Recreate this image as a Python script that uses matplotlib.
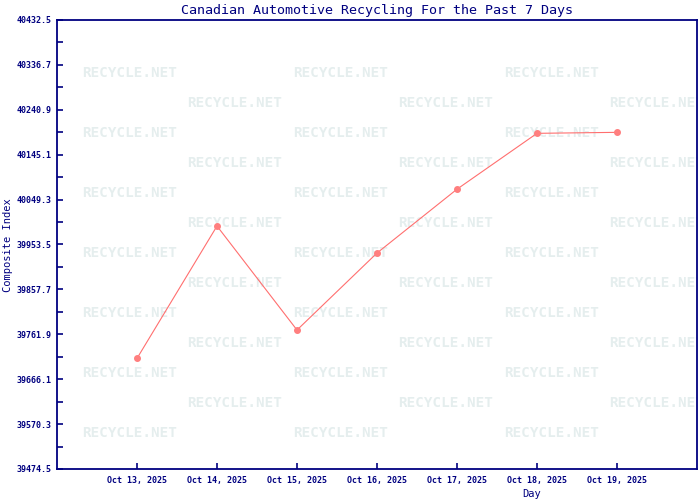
import numpy as np
import matplotlib
matplotlib.use('Agg')
import matplotlib.pyplot as plt
from matplotlib.ticker import FixedLocator

# data
days = ['Oct 13, 2025', 'Oct 14, 2025', 'Oct 15, 2025', 'Oct 16, 2025',
        'Oct 17, 2025', 'Oct 18, 2025', 'Oct 19, 2025']
index_values = [39710.5, 39992.9, 39771.0, 39935.3, 40071.5, 40190.7, 40192.8]
y_ticks = [39474.5, 39570.3, 39666.1, 39761.9, 39857.7, 39953.5,
           40049.3, 40145.1, 40240.9, 40336.7, 40432.5]

navy = '#000080'
mono = 'DejaVu Sans Mono'

fig = plt.figure(figsize=(7, 5), dpi=100)
ax = fig.add_axes([57 / 700, 31 / 500, 640 / 700, 449 / 500])

# background watermark, rows every 30px, alternating column offsets
for r, py in enumerate(range(73, 440, 30)):
    cols = [130, 341, 552] if r % 2 == 0 else [235, 446, 657]
    for px in cols:
        ax.text((px - 57) / 640, (469 - py) / 449, 'RECYCLE.NET',
                transform=ax.transAxes, ha='center', va='center',
                fontsize=10.3, fontweight='bold', family=mono,
                color='#e5eeee', clip_on=True, zorder=0)

x = np.arange(len(days))
ax.plot(x, index_values, color='#ff6f6f', linewidth=0.8,
        marker='o', markersize=4, markerfacecolor='#ff7f7f',
        markeredgecolor='#ff7f7f', zorder=3)

ax.set_xlim(-1, 7)
ax.set_ylim(y_ticks[0], y_ticks[-1])
ax.set_xticks(x)
ax.set_xticklabels(days)
ax.set_yticks(y_ticks)
ax.set_yticklabels(['%.1f' % v for v in y_ticks])
mids = [(a + b) / 2 for a, b in zip(y_ticks[:-1], y_ticks[1:])]
ax.yaxis.set_minor_locator(FixedLocator(mids))

for s in ax.spines.values():
    s.set_color(navy)
    s.set_linewidth(1.3)
ax.tick_params(axis='both', which='both', direction='in', color=navy,
               width=1.2, length=4, labelcolor=navy, labelsize=6)
ax.tick_params(axis='y', pad=4)
ax.tick_params(axis='x', pad=5)
for lab in ax.get_xticklabels() + ax.get_yticklabels():
    lab.set_family(mono)
    lab.set_fontweight('bold')

ax.set_title('Canadian Automotive Recycling For the Past 7 Days',
             family=mono, fontsize=9.6, color=navy, pad=4)
fig.text(532 / 700, 1 - 494 / 500, 'Day', family=mono, fontsize=7.5,
         color=navy, ha='center', va='center')
fig.text(8 / 700, 1 - 245 / 500, 'Composite Index', family=mono,
         fontsize=7.5, color=navy, ha='center', va='center', rotation=90)

fig.savefig('out.png', dpi=100)
